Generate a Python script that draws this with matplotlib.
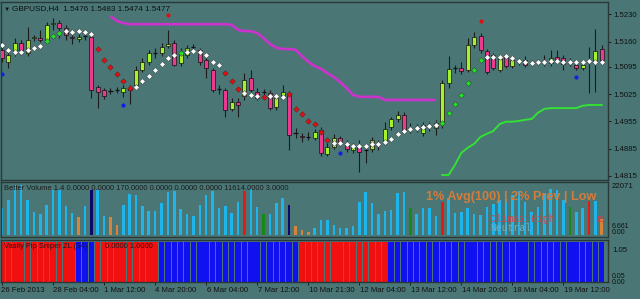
import numpy as np
import matplotlib
matplotlib.use("Agg")
import matplotlib.pyplot as plt
import matplotlib.transforms as mtransforms

plt.rcParams['font.family'] = ['Liberation Sans', 'DejaVu Sans']

# GBPUSD H4 candles (one entry per bar)
opens = [1.5139, 1.5108, 1.5131, 1.5157, 1.5131, 1.5169, 1.5169, 1.5164, 1.5205, 1.5208,
         1.5195, 1.5172, 1.5167, 1.5175, 1.5172, 1.5043, 1.5036, 1.5033, 1.5036, 1.5031,
         1.5041, 1.5049, 1.5087, 1.5108, 1.5131, 1.5131, 1.5149, 1.5157, 1.5105, 1.5126,
         1.5146, 1.5139, 1.5113, 1.5087, 1.5038, 1.5036, 1.4987, 1.5005, 1.5020, 1.5067,
         1.5031, 1.5031, 1.5028, 1.4992, 1.5018, 1.5028, 1.4925, 1.4918, 1.4915, 1.4912,
         1.4933, 1.4871, 1.4889, 1.4912, 1.4900, 1.4882, 1.4889, 1.4882, 1.4884, 1.4894,
         1.4902, 1.4941, 1.4961, 1.4971, 1.4938, 1.4938, 1.4925, 1.4943, 1.4938, 1.4954,
         1.5054, 1.5092, 1.5092, 1.5087, 1.5151, 1.5175, 1.5136, 1.5126, 1.5087, 1.5121,
         1.5097, 1.5110, 1.5113, 1.5105, 1.5108, 1.5108, 1.5105, 1.5121, 1.5118, 1.5105,
         1.5100, 1.5092, 1.5108, 1.5105, 1.5141]
highs = [1.5151, 1.5139, 1.5169, 1.5164, 1.5198, 1.5177, 1.5190, 1.5210, 1.5221, 1.5216,
         1.5203, 1.5180, 1.5182, 1.5180, 1.5177, 1.5049, 1.5041, 1.5041, 1.5043, 1.5049,
         1.5049, 1.5097, 1.5118, 1.5139, 1.5144, 1.5157, 1.5190, 1.5164, 1.5144, 1.5151,
         1.5154, 1.5144, 1.5126, 1.5092, 1.5049, 1.5041, 1.5015, 1.5015, 1.5079, 1.5087,
         1.5041, 1.5038, 1.5036, 1.5023, 1.5049, 1.5033, 1.4938, 1.4925, 1.4928, 1.4936,
         1.4941, 1.4900, 1.4923, 1.4918, 1.4907, 1.4900, 1.4907, 1.4894, 1.4915, 1.4907,
         1.4954, 1.4966, 1.4982, 1.4979, 1.4951, 1.4948, 1.4954, 1.4954, 1.4959, 1.5061,
         1.5123, 1.5100, 1.5108, 1.5169, 1.5185, 1.5182, 1.5141, 1.5131, 1.5126, 1.5128,
         1.5121, 1.5118, 1.5123, 1.5113, 1.5115, 1.5126, 1.5139, 1.5139, 1.5126, 1.5118,
         1.5108, 1.5105, 1.5146, 1.5193, 1.5151]
lows = [1.5108, 1.5092, 1.5123, 1.5126, 1.5123, 1.5162, 1.5159, 1.5159, 1.5190, 1.5169,
        1.5164, 1.5154, 1.5159, 1.5164, 1.5015, 1.4989, 1.5013, 1.5025, 1.5028, 1.5018,
        1.5000, 1.5041, 1.5082, 1.5100, 1.5118, 1.5123, 1.5144, 1.5097, 1.5097, 1.5118,
        1.5136, 1.5100, 1.5067, 1.5031, 1.5025, 1.4966, 1.4982, 1.4966, 1.5010, 1.5031,
        1.5010, 1.5023, 1.4984, 1.4984, 1.5013, 1.4882, 1.4912, 1.4902, 1.4907, 1.4907,
        1.4866, 1.4866, 1.4884, 1.4892, 1.4876, 1.4874, 1.4825, 1.4848, 1.4876, 1.4882,
        1.4894, 1.4933, 1.4954, 1.4925, 1.4925, 1.4928, 1.4918, 1.4930, 1.4920, 1.4938,
        1.5041, 1.5079, 1.5077, 1.5082, 1.5144, 1.5131, 1.5077, 1.5087, 1.5082, 1.5092,
        1.5092, 1.5100, 1.5095, 1.5097, 1.5100, 1.5097, 1.5097, 1.5108, 1.5087, 1.5097,
        1.5087, 1.5087, 1.5028, 1.5031, 1.5105]
closes = [1.5118, 1.5126, 1.5157, 1.5139, 1.5164, 1.5172, 1.5164, 1.5203, 1.5208, 1.5195,
          1.5177, 1.5169, 1.5172, 1.5175, 1.5036, 1.5031, 1.5020, 1.5033, 1.5036, 1.5041,
          1.5036, 1.5087, 1.5108, 1.5131, 1.5131, 1.5146, 1.5154, 1.5100, 1.5131, 1.5144,
          1.5146, 1.5108, 1.5092, 1.5036, 1.5038, 1.4984, 1.5005, 1.4997, 1.5061, 1.5036,
          1.5015, 1.5031, 1.4989, 1.5015, 1.5031, 1.4920, 1.4925, 1.4915, 1.4915, 1.4928,
          1.4874, 1.4889, 1.4912, 1.4900, 1.4884, 1.4892, 1.4876, 1.4882, 1.4907, 1.4894,
          1.4936, 1.4961, 1.4971, 1.4933, 1.4938, 1.4938, 1.4946, 1.4943, 1.4951, 1.5054,
          1.5090, 1.5092, 1.5085, 1.5151, 1.5172, 1.5139, 1.5082, 1.5092, 1.5115, 1.5097,
          1.5113, 1.5108, 1.5100, 1.5105, 1.5108, 1.5108, 1.5118, 1.5113, 1.5103, 1.5105,
          1.5092, 1.5100, 1.5108, 1.5136, 1.5113]

# trend dots (W = neutral, R = down, G = up)
trend_price = [1.5151, 1.5139, 1.5133, 1.5133, 1.5139, 1.5144, 1.5149, 1.5162, 1.5175, 1.5182,
               1.5187, 1.5185, 1.5187, 1.5185, 1.5180, 1.5141, 1.5113, 1.5095, 1.5077, 1.5059,
               1.5041, 1.5043, 1.5059, 1.5072, 1.5087, 1.5103, 1.5118, 1.5126, 1.5131, 1.5133,
               1.5136, 1.5133, 1.5126, 1.5108, 1.5100, 1.5079, 1.5059, 1.5038, 1.5028, 1.5023,
               1.5020, 1.5018, 1.5020, 1.5020, 1.5018, 1.5025, 1.4987, 1.4974, 1.4956, 1.4948,
               1.4928, 1.4907, 1.4900, 1.4900, 1.4897, 1.4892, 1.4892, 1.4892, 1.4897, 1.4897,
               1.4902, 1.4910, 1.4923, 1.4930, 1.4936, 1.4938, 1.4941, 1.4943, 1.4946, 1.4951,
               1.4977, 1.5000, 1.5023, 1.5054, 1.5087, 1.5113, 1.5121, 1.5121, 1.5121, 1.5123,
               1.5118, 1.5110, 1.5108, 1.5105, 1.5108, 1.5108, 1.5110, 1.5110, 1.5108, 1.5108,
               1.5108, 1.5108, 1.5110, 1.5108, 1.5108]
trend_state = ("WWWWWWW" "GGG" "WWWWW" "RRRRRR" "WWWWWWW" "G" "WWWWWW" "RRR" "WWW" "R"
               "WWW" "RRRRRRR" "WWWWWWWWWWWWWWWWW" "GGGGGGG" "WWWWWWWWWWWWWWWWWWW")

# fractal dots
red_dot_bars = [26, 75]
red_dot_price = [1.5228, 1.5213]
blue_dot_bars = [0, 19, 53, 90]
blue_dot_price = [1.5077, 1.4997, 1.4874, 1.5069]

# upper band (magenta) starts at bar 17, lower band (green) at bar 69
upper_start = 17
upper_band = [1.5226, 1.5213, 1.5208, 1.5205, 1.5205, 1.5205, 1.5205, 1.5205, 1.5205, 1.5205,
              1.5205, 1.5205, 1.5205, 1.5205, 1.5205, 1.5205, 1.5205, 1.5205, 1.5205, 1.5203,
              1.5190, 1.5187, 1.5187, 1.5182, 1.5169, 1.5154, 1.5144, 1.5141, 1.5141, 1.5139,
              1.5123, 1.5108, 1.5097, 1.5090, 1.5079, 1.5069, 1.5056, 1.5041, 1.5023, 1.5018,
              1.5018, 1.5018, 1.5018, 1.5010, 1.5010, 1.5010, 1.5010, 1.5010, 1.5010, 1.5010,
              1.5010, 1.5010]
lower_start = 69
lower_band = [1.4817, 1.4817, 1.4843, 1.4874, 1.4887, 1.4897, 1.4915, 1.4923, 1.4930, 1.4948,
              1.4954, 1.4954, 1.4956, 1.4959, 1.4961, 1.4977, 1.4987, 1.4989, 1.4989, 1.4989,
              1.4989, 1.4989, 1.4995, 1.4997, 1.4997, 1.4997]

# Better Volume
volume = [11100, 14560, 20800, 20800, 14560, 9700, 8600, 12480, 18700, 18700,
          12060, 9000, 7600, 12200, 18700, 18700, 7900, 7350, 4160, 12480,
          17060, 16640, 12200, 9980, 9980, 13180, 18000, 18300, 10700, 8600,
          7900, 12480, 16640, 18300, 11350, 12200, 9300, 13850, 18300, 19430,
          11520, 8740, 8600, 13180, 15520, 12480, 3740, 2080, 1120, 3040,
          6240, 6240, 4160, 2790, 2790, 3740, 13850, 17760, 13180, 8600,
          9980, 10400, 17350, 17760, 11100, 8600, 11350, 11350, 7900, 13850,
          15520, 9300, 9700, 11100, 8600, 8320, 11520, 12770, 14560, 14980,
          16640, 18300, 13850, 9440, 11780, 17350, 19140, 18720, 14560, 11520,
          9440, 11100, 14150, 14150, 6530]
low_vol_bars = [12, 17, 18, 46, 47, 48, 94]
navy_bars = [14, 45]
climax_bars = [38, 69, 92]
churn_bars = [41, 64, 89]

# Pip Sniper state per bar (B = up, R = down)
sniper_state = ("RRRRRRRRRRRR" "BBB" "RRRRRRRRRR" "BBBBBBBBBBBBBBBBBBBBBB"
                "RRRRRRRRRRRRRR" "BBBBBBBBBBBBBBBBBBBBBBBBBBBBBBBBBB")

price_ticks = [1.5230, 1.5160, 1.5095, 1.5025, 1.4955, 1.4885, 1.4815]
date_bars = [0, 8, 16, 24, 32, 40, 48, 56, 64, 72, 80, 88]
date_labels = ["26 Feb 2013", "28 Feb 04:00", "1 Mar 12:00", "4 Mar 20:00", "6 Mar 04:00",
               "7 Mar 12:00", "10 Mar 21:30", "12 Mar 04:00", "13 Mar 12:00", "14 Mar 20:00",
               "18 Mar 04:00", "19 Mar 12:00"]

BG = "#4a7676"
FRAME = "#2a3838"
TXT = "#111111"
W, H = 640, 299

fig = plt.figure(figsize=(6.4, 2.99), dpi=100, facecolor=BG)


def box(x0, y0, x1, y1):
    return [x0 / W, 1 - y1 / H, (x1 - x0) / W, (y1 - y0) / H]


def ptext(x, y, s, **kw):
    kw.setdefault("color", TXT)
    kw.setdefault("fontsize", 5.6)
    fig.text(x / W, 1 - y / H, s, va="center", ha="left", **kw)


ax = fig.add_axes(box(1, 2, 608, 180))
axv = fig.add_axes(box(1, 182, 608, 237), sharex=ax)
axp = fig.add_axes(box(1, 240, 608, 282), sharex=ax)
for a in (ax, axv, axp):
    a.set_facecolor(BG)
    for s in a.spines.values():
        s.set_color(FRAME)
        s.set_linewidth(1.0)
    a.tick_params(axis="x", bottom=False, labelbottom=False)

n = len(opens)
idx = np.arange(n)
o, hi, lo, c = (np.array(v) for v in (opens, highs, lows, closes))

# candles
ax.vlines(idx, lo, hi, color="#1c1c1c", lw=0.8, zorder=2)
up = c > o + 0.00015
dn = c < o - 0.00015
flat = ~(up | dn)
ax.bar(idx[up], c[up] - o[up], bottom=o[up], width=0.62, color="#a6f02c",
       edgecolor="#111111", linewidth=0.5, zorder=3)
ax.bar(idx[dn], o[dn] - c[dn], bottom=c[dn], width=0.62, color="#ee3a8e",
       edgecolor="#111111", linewidth=0.5, zorder=3)
ax.hlines(c[flat], idx[flat] - 0.32, idx[flat] + 0.32, color="#111111", lw=0.9, zorder=3)

# bands
ax.plot(np.arange(upper_start, upper_start + len(upper_band)), upper_band,
        color="#cc33cc", lw=1.9, zorder=2, solid_capstyle="butt")
ax.plot(np.arange(lower_start, lower_start + len(lower_band)), lower_band,
        color="#33e033", lw=1.4, zorder=2)

# trend diamonds
tp = np.array(trend_price)
for key, col in (("W", "white"), ("R", "#e01010"), ("G", "#22e022")):
    m = np.array([s == key for s in trend_state])
    ax.plot(idx[m], tp[m], "D", ms=2.9, mfc=col, mec="#333333", mew=0.3,
            ls="none", zorder=4)

ax.plot(red_dot_bars, red_dot_price, "o", ms=3.0, color="#e01010", mec="none", zorder=4)
ax.plot(blue_dot_bars, blue_dot_price, "o", ms=3.0, color="#1020e8", mec="none", zorder=4)

ax.set_xlim(-0.16, 94.98)
ax.set_ylim(1.4804, 1.5262)
ax.yaxis.tick_right()
ax.set_yticks(price_ticks)
ax.set_yticklabels(["%.4f" % p for p in price_ticks])
ax.tick_params(axis="y", direction="out", length=2.5, width=0.6, color=TXT,
               labelcolor=TXT, labelsize=5.6, pad=1.5)

# volume panel
vcol = []
for i in range(n):
    if i in low_vol_bars:
        vcol.append("#d8823a")
    elif i in navy_bars:
        vcol.append("#0a0a6e")
    elif i in climax_bars:
        vcol.append("#e81818")
    elif i in churn_bars:
        vcol.append("#168a16")
    else:
        vcol.append("#1eb4ec")
axv.bar(idx, volume, width=0.4, color=vcol, zorder=2)
axv.set_ylim(-830, 22050)
axv.set_yticks([])

# pip sniper panel
pcol = ["#1010f0" if s == "B" else "#f01010" for s in sniper_state]
axp.bar(idx, np.ones(n), width=0.86, color=pcol, zorder=2)
axp.set_ylim(0, 1.05)
axp.set_yticks([])
axp.set_xticks(date_bars)
axp.tick_params(axis="x", bottom=True, direction="out", length=2.5, width=0.6, color=TXT)
tr = mtransforms.blended_transform_factory(axp.transData, axp.transAxes)
for b, lab in zip(date_bars, date_labels):
    axp.text(b + 0.05 if b else -0.1, -0.2, lab, transform=tr, ha="left", va="center",
             fontsize=5.6, color=TXT)

# texts
ptext(4, 9, "\u25bc", fontsize=4.5)
ptext(12, 9, "GBPUSD,H4  1.5476 1.5483 1.5474 1.5477", fontsize=5.9)
ptext(4, 188, "Better Volume 1.4 0.0000 0.0000 170.0000 0.0000 0.0000 0.0000 11614.0000 3.0000",
      fontsize=5.4, color="#1a1a1a")
ptext(426, 197, "1% Avg(100) | 2% Prev | Low", fontsize=9.1, fontweight="bold",
      color="#d47c3a")
ptext(490, 219, "Climax High", fontsize=7, family="Liberation Mono", color="#cc4444")
ptext(490, 228, "Neutral", fontsize=7, family="Liberation Mono", color="#6fb0cc")
ptext(595, 219, "15", fontsize=6.2, color="#cc4444")
ptext(4, 247, "Vasily Pip Sniper ZL (34)", fontsize=5.4, color="#1a1a1a")
ptext(105, 247, "0.0000 1.0000", fontsize=5.4, color="#1a1a1a")

ptext(612, 187, "22071")
ptext(612, 226, "6.661", fontsize=5.0)
ptext(612, 233, "0.00", fontsize=5.0)
ptext(612, 250, "1.05")
ptext(612, 276, "0.05", fontsize=5.0)
ptext(612, 283, "0.00", fontsize=5.0)

fig.savefig("out.png", dpi=100, facecolor=BG)
